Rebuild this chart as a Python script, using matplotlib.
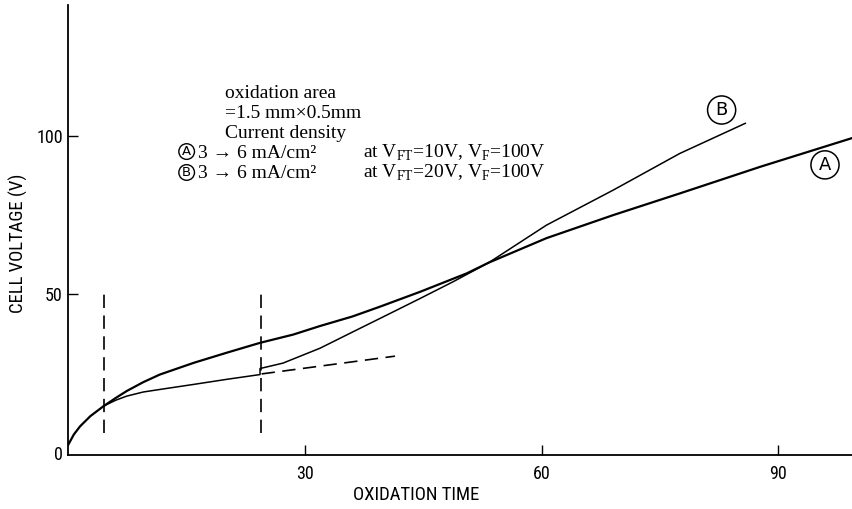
import matplotlib
matplotlib.use("Agg")
import matplotlib.pyplot as plt
import matplotlib.font_manager as fm

# ---- data ----
a_x = [0, 0.7, 1.5, 2.8, 4.5, 6.0, 7.4, 9.5, 11.6, 15.9, 20.1, 24.3, 28.5, 31.9, 36.0, 39.5, 44.6, 50.5, 53.3, 60.6, 69.1, 77.5, 87.7, 99.4]
a_y = [2.6, 5.8, 8.4, 11.6, 14.8, 17.3, 19.5, 22.3, 24.7, 28.4, 31.6, 34.7, 37.3, 40.0, 43.0, 46.1, 50.8, 56.6, 60.0, 67.7, 75.0, 81.8, 90.2, 99.3]

b_x = [4.5, 6.0, 7.4, 9.5, 11.6, 15.9, 20.1, 24.3, 24.3, 27.2, 31.9, 36.1, 40.4, 44.6, 48.8, 53.3, 60.6, 69.1, 77.5, 85.8]
b_y = [14.8, 16.6, 17.9, 19.2, 20.0, 21.6, 23.2, 24.7, 26.6, 28.3, 33.0, 38.2, 43.5, 48.7, 54.0, 60.0, 71.8, 82.9, 94.4, 103.9]

ext_x = [24.5, 41.4]
ext_y = [24.9, 30.5]

marker_times = [4.5, 24.4]
marker_range = [6.4, 50]

x_ticks = [30, 60, 90]
y_ticks = [0, 50, 100]

serif = ['Liberation Serif', 'DejaVu Serif']

# find a condensed sans font if one is installed
def find_narrow():
    prefs = ['Liberation Sans Narrow', 'Roboto Condensed', 'DejaVu Sans Condensed',
             'Noto Sans Condensed', 'Open Sans Condensed', 'Arial Narrow']
    found = {}
    for f in fm.fontManager.ttflist:
        if f.style != 'normal':
            continue
        if f.weight not in (400, 'normal', 'regular', 'book'):
            continue
        key = f.name
        if f.stretch in ('condensed', 'semi-condensed', 'extra-condensed') and 'Condensed' not in key:
            key = key + ' Condensed'
        if 'Narrow' in key or 'Condensed' in key:
            found.setdefault(key, f.fname)
    for p in prefs:
        if p in found:
            return found[p]
    for k in sorted(found):
        return found[k]
    return None

narrow_file = find_narrow()
if narrow_file:
    def nfont(size):
        return fm.FontProperties(fname=narrow_file, size=size)
    tick_size, label_size = 13, 13.5
else:
    def nfont(size):
        return fm.FontProperties(family='Liberation Sans', size=size)
    tick_size, label_size = 10.5, 11.5

plt.rcParams['mathtext.fontset'] = 'custom'
plt.rcParams['mathtext.rm'] = 'Liberation Serif'

W, H = 853, 509
fig = plt.figure(figsize=(W / 100, H / 100), dpi=100)
ax = fig.add_axes([68.3 / W, (H - 455) / H, (W - 68.3) / W, 450 / H])

ax.plot(a_x, a_y, color='black', lw=1.6)
ax.plot(b_x, b_y, color='black', lw=1.1)
ax.plot(ext_x, ext_y, color='black', lw=1.2, dashes=(8, 4.5))
for t in marker_times:
    ax.plot([t, t], marker_range, color='black', lw=1.2, dashes=(8, 4.5))

ax.set_xlim(0, 99.45)
ax.set_ylim(-0.66, 141.2)
ax.set_xticks(x_ticks)
ax.set_yticks(y_ticks)
ax.tick_params(axis='both', direction='in', length=7, width=1.0)
ax.tick_params(axis='x', pad=7)
ax.tick_params(axis='y', pad=4)
for lab in ax.get_xticklabels() + ax.get_yticklabels():
    lab.set_fontproperties(nfont(tick_size))
ax.yaxis.get_major_ticks()[0].tick1line.set_visible(False)

for s in ['top', 'right']:
    ax.spines[s].set_visible(False)
for s in ['left', 'bottom']:
    ax.spines[s].set_linewidth(1.3)

fig.text(416 / W, 1 - 495 / H, 'OXIDATION TIME', fontproperties=nfont(label_size),
         ha='center', va='center')
fig.text(18 / W, 1 - 243 / H, 'CELL VOLTAGE (V)', fontproperties=nfont(label_size),
         ha='center', va='center', rotation=90)

# annotation block
tx = 19.9
ax.text(tx, 111.9, 'oxidation area', family=serif, fontsize=14, va='baseline')
ax.text(tx, 105.6, '=1.5 mm\u00d70.5mm', family=serif, fontsize=14, va='baseline')
ax.text(tx, 99.4, 'Current density', family=serif, fontsize=14, va='baseline')
ax.text(16.4, 93.1, '3 \u2192 6 mA/cm\u00b2', family=serif, fontsize=14, va='baseline')
ax.text(37.3, 93.1, 'at V$_{\\mathrm{FT}}$=10V, V$_{\\mathrm{F}}$=100V', family=serif, fontsize=14, va='baseline')
ax.text(16.4, 86.8, '3 \u2192 6 mA/cm\u00b2', family=serif, fontsize=14, va='baseline')
ax.text(37.3, 86.8, 'at V$_{\\mathrm{FT}}$=20V, V$_{\\mathrm{F}}$=100V', family=serif, fontsize=14, va='baseline')

circ_small = dict(boxstyle='circle,pad=0.1', fc='none', ec='black', lw=1.0)
ax.text(15.0, 95.0, 'A', family='DejaVu Sans', fontsize=9.5, ha='center', va='center', bbox=circ_small)
ax.text(15.0, 88.4, 'B', family='DejaVu Sans', fontsize=9.5, ha='center', va='center', bbox=circ_small)

circ_big = dict(boxstyle='circle,pad=0.28', fc='none', ec='black', lw=1.1)
ax.text(82.8, 108.1, 'B', family='DejaVu Sans', fontsize=13, ha='center', va='center', bbox=circ_big)
ax.text(95.9, 90.8, 'A', family='DejaVu Sans', fontsize=13, ha='center', va='center', bbox=circ_big)

fig.savefig('out.png', dpi=100)
